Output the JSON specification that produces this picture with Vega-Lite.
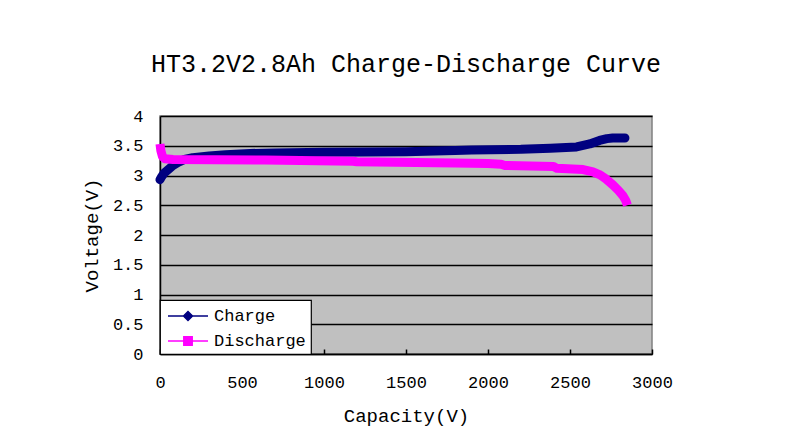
{
  "$schema": "https://vega.github.io/schema/vega-lite/v6.json",
  "width": 492,
  "height": 238,
  "autosize": {"type": "none"},
  "padding": {"left": 160, "top": 116, "right": 136, "bottom": 77},
  "background": "white",
  "title": {
    "text": "HT3.2V2.8Ah Charge-Discharge Curve",
    "font": "Liberation Mono",
    "fontSize": 25,
    "fontWeight": "normal",
    "color": "black",
    "anchor": "middle",
    "frame": "group",
    "baseline": "alphabetic",
    "offset": 10
  },
  "config": {
    "view": {"fill": "#C0C0C0", "stroke": "#808080", "strokeWidth": 1.5},
    "axis": {"labelFont": "Liberation Mono", "titleFont": "Liberation Mono", "labelColor": "black", "titleColor": "black", "titleFontWeight": "normal", "labelFlush": false, "labelOverlap": false},
    "legend": {"labelFont": "Liberation Mono"}
  },
  "data": {
    "values": [
      {"series": "Charge", "capacity": 0, "voltage": 2.93},
      {"series": "Charge", "capacity": 10, "voltage": 2.98},
      {"series": "Charge", "capacity": 25, "voltage": 3.04},
      {"series": "Charge", "capacity": 50, "voltage": 3.10},
      {"series": "Charge", "capacity": 80, "voltage": 3.17},
      {"series": "Charge", "capacity": 110, "voltage": 3.22},
      {"series": "Charge", "capacity": 150, "voltage": 3.27},
      {"series": "Charge", "capacity": 200, "voltage": 3.30},
      {"series": "Charge", "capacity": 300, "voltage": 3.33},
      {"series": "Charge", "capacity": 400, "voltage": 3.35},
      {"series": "Charge", "capacity": 550, "voltage": 3.37},
      {"series": "Charge", "capacity": 700, "voltage": 3.38},
      {"series": "Charge", "capacity": 1000, "voltage": 3.39},
      {"series": "Charge", "capacity": 1500, "voltage": 3.40},
      {"series": "Charge", "capacity": 1800, "voltage": 3.42},
      {"series": "Charge", "capacity": 1900, "voltage": 3.43},
      {"series": "Charge", "capacity": 2200, "voltage": 3.44},
      {"series": "Charge", "capacity": 2380, "voltage": 3.46},
      {"series": "Charge", "capacity": 2540, "voltage": 3.48},
      {"series": "Charge", "capacity": 2620, "voltage": 3.53},
      {"series": "Charge", "capacity": 2680, "voltage": 3.59},
      {"series": "Charge", "capacity": 2725, "voltage": 3.62},
      {"series": "Charge", "capacity": 2760, "voltage": 3.63},
      {"series": "Charge", "capacity": 2835, "voltage": 3.63},
      {"series": "Discharge", "capacity": 0, "voltage": 3.53},
      {"series": "Discharge", "capacity": 5, "voltage": 3.42},
      {"series": "Discharge", "capacity": 15, "voltage": 3.32},
      {"series": "Discharge", "capacity": 30, "voltage": 3.28},
      {"series": "Discharge", "capacity": 80, "voltage": 3.27},
      {"series": "Discharge", "capacity": 640, "voltage": 3.26},
      {"series": "Discharge", "capacity": 1177, "voltage": 3.24},
      {"series": "Discharge", "capacity": 1200, "voltage": 3.23},
      {"series": "Discharge", "capacity": 1800, "voltage": 3.21},
      {"series": "Discharge", "capacity": 2000, "voltage": 3.20},
      {"series": "Discharge", "capacity": 2080, "voltage": 3.19},
      {"series": "Discharge", "capacity": 2100, "voltage": 3.17},
      {"series": "Discharge", "capacity": 2400, "voltage": 3.15},
      {"series": "Discharge", "capacity": 2420, "voltage": 3.12},
      {"series": "Discharge", "capacity": 2580, "voltage": 3.10},
      {"series": "Discharge", "capacity": 2640, "voltage": 3.06},
      {"series": "Discharge", "capacity": 2683, "voltage": 3.01},
      {"series": "Discharge", "capacity": 2720, "voltage": 2.94},
      {"series": "Discharge", "capacity": 2762, "voltage": 2.84},
      {"series": "Discharge", "capacity": 2795, "voltage": 2.75},
      {"series": "Discharge", "capacity": 2823, "voltage": 2.66},
      {"series": "Discharge", "capacity": 2840, "voltage": 2.58},
      {"series": "Discharge", "capacity": 2850, "voltage": 2.50}
    ]
  },
  "encoding": {
    "x": {
      "field": "capacity", "type": "quantitative",
      "scale": {"domain": [0, 3000], "nice": false},
      "axis": {
        "title": "Capacity(V)", "titleFontSize": 19, "titleY": 67, "titleBaseline": "alphabetic",
        "values": [0, 500, 1000, 1500, 2000, 2500, 3000], "format": "d",
        "labelFontSize": 17, "labelPadding": 25, "labelBaseline": "top",
        "grid": false, "domainColor": "black", "domainWidth": 1.5,
        "ticks": true, "tickSize": -5, "tickColor": "black", "tickWidth": 1.5
      }
    },
    "y": {
      "field": "voltage", "type": "quantitative",
      "scale": {"domain": [0, 4], "nice": false},
      "axis": {
        "title": "Voltage(V)", "titleFontSize": 19, "titleX": -69, "titleBaseline": "middle",
        "values": [0, 0.5, 1, 1.5, 2, 2.5, 3, 3.5, 4], "format": "~g",
        "labelFontSize": 17, "labelPadding": 17,
        "ticks": false, "grid": true, "gridColor": "black", "gridWidth": 1.3, "gridOpacity": 1,
        "domainColor": "black", "domainWidth": 1.5
      }
    },
    "color": {
      "field": "series", "type": "nominal",
      "scale": {"domain": ["Charge", "Discharge"], "range": ["#000080", "#FF00FF"]},
      "legend": {
        "title": null, "orient": "bottom-left", "offset": 0,
        "fillColor": "white", "strokeColor": "black",
        "padding": 5, "symbolSize": 400, "symbolOffset": 12, "symbolStrokeWidth": 1.5,
        "labelFontSize": 17, "labelColor": "black", "labelOffset": 15, "rowPadding": 6,
        "encode": {
          "legend": {"update": {"strokeWidth": {"value": 1.2}}},
          "symbols": {
            "update": {
              "fill": {"scale": "color", "field": "value"},
              "stroke": {"scale": "color", "field": "value"},
              "shape": {"signal": "datum.value == 'Charge' ? 'M-2,0H2M-0.45,0L0,-0.45L0.45,0L0,0.45Z' : 'M-2,0H2M-0.42,-0.42H0.42V0.42H-0.42Z'"}
            }
          }
        }
      }
    }
  },
  "layer": [
    {
      "transform": [{"filter": "datum.series == 'Charge'"}],
      "mark": {"type": "line", "strokeWidth": 9, "strokeCap": "round", "strokeJoin": "round"}
    },
    {
      "transform": [{"filter": "datum.series == 'Discharge'"}],
      "mark": {"type": "line", "strokeWidth": 9, "strokeCap": "butt", "strokeJoin": "round"}
    }
  ]
}
